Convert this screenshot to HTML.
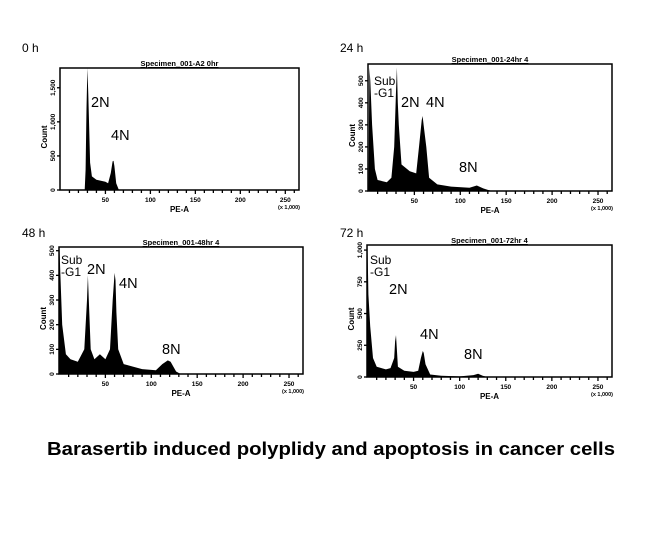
<!DOCTYPE html>
<html><head><meta charset="utf-8"><style>
html,body{margin:0;padding:0;background:#fff;}
svg{display:block;font-family:"Liberation Sans",sans-serif;}
</style></head><body>
<svg id="chart" width="661" height="535" viewBox="0 0 661 535">
<text x="331" y="455" text-anchor="middle" font-size="18.5" font-weight="bold" textLength="568" lengthAdjust="spacingAndGlyphs">Barasertib induced polyplidy and apoptosis in cancer cells</text>
</svg>
<script>
// ---- data (PE-A x1000 vs Count) ----
const xs0h = [27,28,29,30,31,33,35,40,50,53,56,58,59,60,62,65];
const counts0h = [0,300,1200,1790,1400,400,200,150,120,100,250,420,430,350,100,0];
const xs24h = [0,1,2,4,7,10,20,25,28,30,31,32,33,36,45,52,55,58,59,60,63,66,75,90,110,118,125,130,135];
const counts24h = [0,560,500,300,100,50,40,60,200,450,560,400,300,120,90,80,200,320,340,300,200,60,30,20,15,25,12,5,0];
const xs48h = [0,1,3,7,12,20,27,30,31,32,34,38,44,50,55,58,60,61,62,64,70,80,90,105,112,118,121,127,132];
const counts48h = [510,400,200,80,60,50,100,300,400,300,100,60,80,60,100,300,410,380,250,100,40,30,20,15,40,55,50,10,0];
const xs72h = [0,1,3,6,10,20,25,29,30,31,32,33,40,50,55,58,60,61,63,68,80,100,115,120,125,130];
const counts72h = [1040,650,400,150,80,60,70,150,280,330,200,80,50,40,50,150,205,190,100,20,10,5,15,25,10,0];
const xTickLabels = [50,100,150,200,250];
const yTicks0h = [0,500,1000,1500];
const yTicks24h = [0,100,200,300,400,500];
const yTicks48h = [0,100,200,300,400,500];
const yTicks72h = [0,250,500,750,1000];

const NS = "http://www.w3.org/2000/svg";
const svg = document.getElementById('chart');
function mk(tag, attrs, parent){const e=document.createElementNS(NS,tag);for(const k in attrs)e.setAttribute(k,attrs[k]);(parent||svg).appendChild(e);return e;}

const panels = [
 {key:'0h',label:'0 h',lx:22,ly:52,title:'Specimen_001-A2 0hr',x0:60,x1:299,y0:68,y1:190,ymax:1790,xs:xs0h,cs:counts0h,ticks:yTicks0h,
  ann:[['2N',91,107],['4N',111,140]]},
 {key:'24h',label:'24 h',lx:340,ly:52,title:'Specimen_001-24hr 4',x0:368,x1:612,y0:64,y1:191,ymax:576,xs:xs24h,cs:counts24h,ticks:yTicks24h,
  ann:[['Sub',374,85,12],['-G1',374,97,12],['2N',401,107],['4N',426,107],['8N',459,172]]},
 {key:'48h',label:'48 h',lx:22,ly:237,title:'Specimen_001-48hr 4',x0:59,x1:303,y0:247,y1:374,ymax:515,xs:xs48h,cs:counts48h,ticks:yTicks48h,
  ann:[['Sub',61,264,12],['-G1',61,276,12],['2N',87,274],['4N',119,288],['8N',162,354]]},
 {key:'72h',label:'72 h',lx:340,ly:237,title:'Specimen_001-72hr 4',x0:367,x1:612,y0:245,y1:377,ymax:1040,xs:xs72h,cs:counts72h,ticks:yTicks72h,
  ann:[['Sub',370,264,12],['-G1',370,276,12],['2N',389,294],['4N',420,339],['8N',464,359]]}
];

panels.forEach(p=>{
  const g = mk('g',{});
  
  
  const sx = v => p.x0 + (v+0.5)*0.922*(p.x1-p.x0)/245;
  const sy = c => p.y1 - c*(p.y1-p.y0)/p.ymax;
  const lab = mk('text',{x:p.lx,y:p.ly,'font-size':12},g); lab.textContent=p.label;
  
  
  const t = mk('text',{x:(p.x0+p.x1)/2,y:p.y0-2,'font-size':7.5,'font-weight':'bold','text-anchor':'middle','text-decoration':'underline'},g); t.textContent=p.title;
  
  
  // histogram
  let d = 'M'+sx(p.xs[0])+','+p.y1;
  p.xs.forEach((x,i)=>{ d += ' L'+sx(x).toFixed(1)+','+sy(p.cs[i]).toFixed(1); });
  d += ' L'+sx(p.xs[p.xs.length-1])+','+p.y1+' Z';
  const path = mk('path',{d:d,fill:'#000'},g);
  
  
  // box
  const box = mk('rect',{x:p.x0,y:p.y0,width:p.x1-p.x0,height:p.y1-p.y0,fill:'none',stroke:'#000','stroke-width':1.5},g);
  
  
  // x ticks
  for(let v=10; v<=260; v+=10){
    const X = sx(v);
    mk('line',{x1:X,y1:p.y1,x2:X,y2:p.y1+(v%50===0?4:3),stroke:'#000','stroke-width':1.3},g);
  }
  xTickLabels.forEach(v=>{
    const tx = mk('text',{x:sx(v),y:p.y1+12,'font-size':6.5,'font-weight':'bold','text-anchor':'middle'},g); tx.textContent=v;
    
    
  });
  const k = mk('text',{x:p.x1-10,y:p.y1+19,'font-size':5.5,'font-weight':'bold','text-anchor':'middle'},g); k.textContent='(x 1,000)';
  
  
  const xt = mk('text',{x:(p.x0+p.x1)/2,y:p.y1+22,'font-size':8,'font-weight':'bold','text-anchor':'middle'},g); xt.textContent='PE-A';
  
  
  // y ticks
  p.ticks.forEach(v=>{
    const Y = sy(v);
    mk('line',{x1:p.x0-3,y1:Y,x2:p.x0,y2:Y,stroke:'#000','stroke-width':1.3},g);
    const ty = mk('text',{x:0,y:0,'font-size':6.5,'font-weight':'bold','text-anchor':'middle',transform:'translate('+(p.x0-5)+','+Y+') rotate(-90)'},g); ty.textContent=v>=1000?(Math.floor(v/1000)+','+String(v%1000).padStart(3,'0')):v;
    
    
  });
  const yt = mk('text',{x:0,y:0,'font-size':8,'font-weight':'bold','text-anchor':'middle',transform:'translate('+(p.x0-13)+','+((p.y0+p.y1)/2+8)+') rotate(-90)'},g); yt.textContent='Count';
  
  
  p.ann.forEach(a=>{
    const at = mk('text',{x:a[1],y:a[2],'font-size':a[3]||14.5},g); at.textContent=a[0];
    
    
  });
});
</script>
</body></html>
